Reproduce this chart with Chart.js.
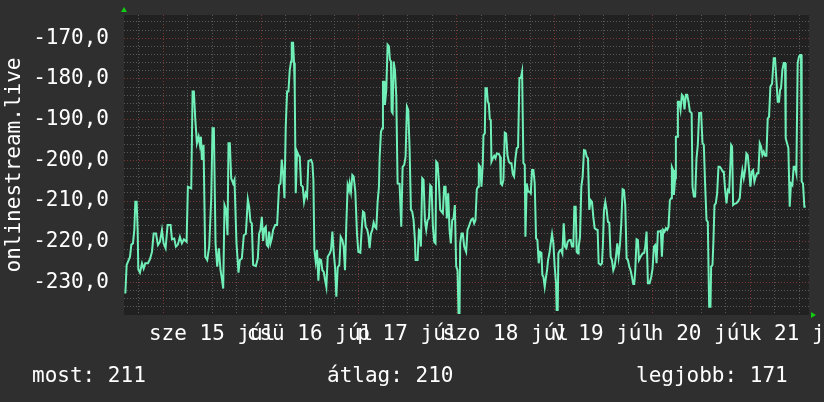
<!DOCTYPE html>
<html>
<head>
<meta charset="utf-8">
<script src="https://cdn.jsdelivr.net/npm/chart.js@4.4.1/dist/chart.umd.min.js"></script>
<style>
  html, body { margin: 0; padding: 0; background: #2f2f2f; }
  canvas { display: block; }
</style>
</head>
<body>
<canvas id="c" width="824" height="402"></canvas>
<script>
// ---- data (hours since the start of the window, 14 Jul ~14:23) ----
const START_HOUR = 14.38;      // time of day of the first hour value
const SPAN_HOURS = 168;        // one week
const hours = [
  0.33, 0.65, 1.14, 1.47, 1.80, 2.20, 2.53, 2.78, 3.10, 3.35,
  3.51, 3.92, 4.41, 4.82, 5.22, 5.88, 6.37, 6.86, 7.27, 7.84,
  8.33, 8.82, 9.31, 9.71, 10.20, 10.69, 11.43, 11.76, 12.33, 12.73,
  13.22, 13.71, 14.20, 14.69, 15.35, 15.67, 16.49, 16.82, 17.14, 17.47,
  17.88, 18.29, 18.61, 18.86, 19.10, 19.51, 19.92, 20.41, 20.90, 21.39,
  21.71, 22.04, 22.45, 22.86, 23.27, 23.67, 24.00, 24.33, 24.65, 25.06,
  25.39, 25.63, 25.96, 26.29, 26.78, 27.10, 27.59,
  28.08, 28.41, 28.90, 29.39, 29.88, 30.37, 30.69, 31.02, 31.35, 31.67,
  32.33, 32.82, 33.14, 33.47, 33.80, 34.12, 34.45, 34.78, 35.02, 35.35,
  35.59, 35.92, 36.24, 36.57, 37.06, 37.55, 38.04, 38.37, 38.69, 39.02,
  39.35, 39.67, 40.00, 40.33, 40.65, 40.98, 41.14, 41.47, 41.71, 41.88,
  42.12, 42.45, 42.78, 43.10, 43.43, 43.84, 44.16, 44.57, 44.90, 45.22,
  45.88, 46.20, 46.45, 46.69, 47.02, 47.35, 47.67, 48.00, 48.33, 48.65,
  48.98, 49.31, 49.63, 49.96, 50.45, 50.78, 51.10, 51.43, 51.76, 52.08,
  52.41, 52.82, 53.14, 53.55, 53.88, 54.20, 54.53, 54.86, 55.18, 55.35,
  55.67, 56.00, 56.33, 56.73, 57.14, 57.47, 57.96, 58.29, 58.61, 58.94,
  59.27, 59.67, 59.92, 60.24, 60.57, 60.90, 61.22, 61.55, 61.88, 62.20,
  62.53, 62.69, 63.02, 63.35, 63.51, 63.84, 64.00, 64.33, 64.65, 64.98,
  65.22, 65.47, 65.63, 65.88, 66.12, 66.45, 66.78, 67.10, 67.59, 68.00,
  68.33, 68.73, 69.06, 69.39, 69.71, 70.04, 70.37, 70.69, 71.02, 71.35,
  71.51, 72.00, 72.33, 72.65, 72.82, 73.14, 73.47, 73.80, 74.12, 74.45,
  74.78, 75.10, 75.43, 75.76, 76.08, 76.41, 76.57, 76.90, 77.22, 77.55,
  77.88, 78.20, 78.53, 78.86, 79.18, 79.51, 79.84, 80.16, 80.49, 80.82,
  81.14, 81.47, 81.80, 82.04, 82.29, 82.45, 82.78, 83.10, 83.43,
  83.92, 84.24, 84.57, 84.90, 85.22, 85.55, 85.88, 86.20, 86.53, 86.86,
  87.02, 87.35, 87.67, 88.00, 88.16, 88.49, 88.65, 88.98, 89.22, 89.47,
  89.71, 89.96, 90.12, 90.45, 90.78, 91.10, 91.43, 91.92, 92.24, 92.41,
  92.73, 93.06, 93.39, 93.71, 94.04, 94.37, 94.69, 95.02, 95.35, 95.67,
  96.00, 96.33, 96.65, 96.98, 97.31, 97.63, 97.96, 98.29, 98.45, 98.78,
  99.10, 99.43, 99.76, 100.08, 100.41, 100.73, 101.06, 101.39, 101.71, 102.04,
  102.37, 102.61, 102.86, 103.18, 103.51, 103.76, 104.00, 104.33, 104.65, 104.98,
  105.31, 105.63, 105.96, 106.12, 106.37, 106.53, 106.86, 107.18, 107.51, 107.84,
  108.16, 108.49, 108.82, 109.22, 109.55, 109.88, 110.20, 110.45, 110.78, 111.02,
  111.35,
  111.51, 111.84, 112.16, 112.49, 112.82, 113.14, 113.47, 113.80, 114.12, 114.45,
  114.78, 115.10, 115.43, 115.84, 116.16, 116.41, 116.90, 117.22, 117.47, 117.71,
  118.04, 118.37, 118.69, 119.02, 119.35, 119.67, 120.00, 120.33, 120.65, 120.98,
  121.31, 121.63, 121.96, 122.29, 122.61, 122.94, 123.27, 123.59, 123.92, 124.24,
  124.57, 124.90, 125.14, 125.39, 125.71, 126.04, 126.29, 126.69, 127.18, 127.59,
  127.84, 128.16, 128.49, 128.90, 129.31, 129.63, 129.96, 130.29, 130.61, 130.94,
  131.35, 131.67, 131.92, 132.24, 132.57, 132.90, 133.22, 133.55, 133.88, 134.20,
  134.37, 134.69, 134.86, 135.18, 135.35, 135.67, 135.84, 136.16, 136.49, 136.82,
  137.14, 137.47, 137.80, 138.12, 138.45, 138.78, 139.22,
  139.43, 139.76, 140.08, 140.41, 140.73, 141.06, 141.55, 141.88, 142.20, 142.53,
  142.86, 143.18, 143.51, 143.84, 144.00, 144.33, 144.57, 144.82, 145.14, 145.47,
  145.80, 146.12, 146.45, 146.86, 147.10, 147.43, 147.76, 148.08, 148.41, 148.73,
  148.90, 149.14, 149.39, 149.71, 150.12, 150.53, 151.02, 151.35, 151.67, 152.00,
  152.33, 152.65, 152.98, 153.31, 153.63, 153.96, 154.29, 154.61, 154.94, 155.27,
  155.59, 155.92, 156.24, 156.57, 156.90, 157.22, 157.55, 157.88, 158.20, 158.53,
  158.94, 159.35, 159.67, 160.00, 160.33, 160.65, 160.90, 161.14, 161.47, 161.80,
  162.12, 162.29, 162.61, 162.94, 163.27, 163.59, 163.92, 164.24, 164.57, 164.90,
  165.22, 165.55, 165.80, 166.04, 166.20, 166.53, 166.86, 167.18
];
const signal = [
  -232.7, -225.7, -224.5, -223.7, -220.7, -220.4, -217.1, -210.2, -210.2, -217.1,
  -226.8, -227.6, -225.3, -226.6, -225.3, -225.3, -224.3, -222.5, -218.0, -218.0,
  -220.8, -220.0, -217.1, -220.4, -221.6, -215.9, -215.9, -219.4, -219.2, -221.2,
  -220.7, -218.8, -220.4, -219.4, -220.0, -206.5, -206.9, -183.1, -183.1, -189.7,
  -195.8, -194.2, -196.2, -194.2, -199.9, -196.2, -223.7, -224.5, -221.2, -209.3,
  -192.1, -192.1, -220.4, -226.1, -221.6, -227.0, -229.0, -231.5, -211.0, -212.2,
  -218.4, -195.8, -195.8, -204.4, -205.7, -204.8, -220.4,
  -227.6, -224.5, -224.1, -218.4, -218.1, -209.6, -211.4, -215.1, -215.5, -225.7,
  -226.0, -224.1, -218.0, -217.1, -213.9, -219.8, -216.7, -216.3, -220.8, -221.2,
  -217.5, -220.4, -219.2, -217.1, -215.9, -215.9, -206.1, -205.7, -199.8, -203.2,
  -209.3, -191.7, -183.1, -183.1, -177.8, -175.7, -171.1, -171.1, -176.1, -183.1,
  -208.1, -197.9, -198.7, -199.1, -206.1, -206.5, -210.2, -208.1, -208.9, -200.2,
  -199.9, -200.7, -204.8, -222.0, -224.9, -222.0, -229.6, -224.3, -224.5, -227.0,
  -227.4, -229.4, -231.1, -223.7, -222.9, -222.0, -217.5, -222.5, -226.3, -233.5,
  -226.3, -225.7, -218.8, -219.6, -221.2, -227.0, -215.5, -206.1, -207.3, -205.7,
  -207.7, -203.6, -204.0, -207.7, -218.0, -222.5, -222.7, -217.1, -212.6, -212.9,
  -216.3, -217.1, -218.4, -221.6, -218.0, -217.1, -215.3, -216.3, -216.7, -210.2,
  -206.5, -199.5, -193.0, -192.1, -180.7, -180.7, -186.4, -182.7, -171.6, -172.0,
  -175.3, -175.7, -188.0, -188.4, -175.7, -177.8, -184.3, -205.7, -205.8, -216.3,
  -201.6, -201.1, -199.1, -186.8, -187.6, -197.0, -212.2, -212.6, -214.7, -219.6,
  -224.5, -224.5, -217.1, -217.5, -221.2, -204.4, -204.8, -214.7, -217.1, -214.7,
  -214.3, -206.1, -206.5, -216.3, -220.0, -220.4, -200.3, -200.7, -205.2, -212.2,
  -212.6, -213.0, -206.5, -206.5, -214.3, -208.1, -217.1, -220.4, -214.7, -214.3,
  -211.0, -226.1, -227.0, -237.5, -237.5, -220.4, -218.0, -218.0, -221.2,
  -222.5, -217.1, -216.3, -215.3, -214.5, -214.3, -215.5, -214.7, -207.1, -206.5,
  -201.1, -201.6, -206.5, -200.7, -193.8, -193.4, -182.3, -182.3, -185.6, -186.0,
  -189.9, -190.1, -200.3, -199.5, -198.9, -199.5, -198.3, -198.4, -199.1, -205.7,
  -206.1, -204.8, -193.2, -193.4, -198.7, -200.3, -200.7, -200.7, -203.4, -204.0,
  -199.5, -197.0, -196.8, -179.8, -179.8, -178.2, -200.7, -201.1, -218.8, -205.7,
  -207.7, -207.7, -208.1, -202.4, -202.4, -205.7, -219.2, -219.6, -225.3, -222.5,
  -222.7, -228.2, -228.6, -231.1, -228.6, -227.0, -224.5, -222.9, -220.4, -218.1,
  -220.4, -226.1, -230.2, -236.8, -236.8, -222.9, -222.2, -222.0, -222.9, -215.5,
  -221.2, -221.6, -220.0, -219.6, -219.6, -221.2, -221.2, -211.4, -211.4, -222.5,
  -222.9,
  -221.2, -218.8, -206.5, -204.0, -197.5, -197.6, -199.1, -199.5, -212.2, -209.8,
  -210.2, -213.9, -216.7, -217.0, -217.1, -225.3, -225.7, -225.3, -220.4, -212.2,
  -210.2, -212.2, -215.1, -215.3, -223.7, -224.5, -227.0, -226.1, -223.7, -220.4,
  -223.7, -220.8, -215.5, -207.1, -207.3, -211.0, -224.1, -224.5, -226.1, -227.0,
  -228.6, -230.4, -230.4, -227.0, -219.4, -219.6, -224.5, -223.7, -222.9, -222.7,
  -221.2, -217.5, -230.2, -230.2, -228.6, -226.6, -221.2, -220.8, -225.3, -217.5,
  -217.5, -217.3, -223.7, -217.1, -217.5, -216.7, -217.1, -216.3, -209.8, -209.3,
  -201.6, -202.4, -208.5, -204.4, -194.2, -194.2, -185.6, -185.6, -187.6, -183.9,
  -184.3, -187.5, -183.9, -183.9, -185.6, -188.0, -188.4,
  -206.5, -208.9, -208.9, -199.5, -196.2, -188.4, -188.4, -195.8, -196.2, -206.1,
  -214.7, -215.1, -236.0, -236.0, -226.1, -225.7, -219.6, -211.0, -210.6, -208.1,
  -201.6, -201.6, -202.0, -202.8, -202.8, -207.3, -210.6, -207.3, -207.7, -200.7,
  -196.2, -196.6, -211.0, -210.7, -210.6, -210.2, -209.3, -204.8, -202.4, -204.4,
  -202.4, -198.3, -198.7, -202.4, -206.5, -202.8, -202.4, -205.2, -204.0, -203.2,
  -203.2, -195.8, -196.6, -198.7, -197.9, -198.9, -198.9, -189.7, -189.3, -181.9,
  -181.2, -174.9, -174.9, -180.2, -185.6, -185.6, -182.7, -182.3, -177.8, -176.1,
  -176.1, -194.6, -195.8, -197.0, -211.4, -205.7, -206.1, -201.6, -201.6, -203.2,
  -176.1, -174.5, -174.1, -174.1, -205.2, -205.7, -211.4, -211.4
];
const dayLabels = ['sze 15 júl', 'csü 16 júl', 'p 17 júl', 'szo 18 júl', 'v 19 júl', 'h 20 júl', 'k 21 júl'];
const Y_MIN = -238.0, Y_MAX = -164.3;
const axisTitle = 'onlinestream.live';
const legendItems = [
  { text: 'most: 211' },
  { text: 'átlag: 210' },
  { text: 'legjobb: 171' }
];

// ---- styles ----
const BG = '#2f2f2f';
const PLOT_BG = '#212121';
const LINE = '#70f0b8';
const GRID_MINOR = '#575757';
const GRID_MAJOR = '#7a3535';
const TEXT = '#ffffff';
const ARROW = '#11cc11';
const FONT = '"DejaVu Sans Mono", "Liberation Mono", monospace';

const gridHours = [];
for (let t = 6 - (START_HOUR % 6); t < SPAN_HOURS; t += 6) gridHours.push(+t.toFixed(2));
const isMidnight = t => Math.round(START_HOUR + t) % 24 === 0;
const noonHours = dayLabels.map((_, i) => (24 - START_HOUR) + 12 + 24 * i);
const yTicks = [];
for (let v = -236; v <= -166; v += 2) yTicks.push(v);

const decor = {
  id: 'decor',
  beforeDraw(chart) {
    const { ctx, chartArea: a } = chart;
    ctx.save();
    ctx.fillStyle = BG;
    ctx.fillRect(0, 0, chart.width, chart.height);
    ctx.fillStyle = PLOT_BG;
    ctx.fillRect(a.left, a.top, a.right - a.left, a.bottom - a.top);
    ctx.restore();
  },
  afterDraw(chart) {
    const { ctx, chartArea: a } = chart;
    const xs = chart.scales.x;
    ctx.save();
    ctx.fillStyle = TEXT;
    ctx.font = '21px ' + FONT;
    ctx.textAlign = 'center';
    ctx.textBaseline = 'alphabetic';
    dayLabels.forEach((lab, i) => {
      ctx.fillText(lab, xs.getPixelForValue(noonHours[i]), a.bottom + 25);
    });
    // axis title
    ctx.save();
    ctx.translate(20, (a.top + a.bottom) / 2);
    ctx.rotate(-Math.PI / 2);
    ctx.fillText(axisTitle, 0, 0);
    ctx.restore();
    // legend line
    ctx.textAlign = 'left';
    const lx = [32, 327, 636];
    legendItems.forEach((it, i) => ctx.fillText(it.text, lx[i], a.bottom + 67));
    // arrows
    ctx.fillStyle = ARROW;
    ctx.beginPath();
    ctx.moveTo(a.left - 3, a.top - 3);
    ctx.lineTo(a.left + 3, a.top - 3);
    ctx.lineTo(a.left, a.top - 8);
    ctx.closePath();
    ctx.fill();
    ctx.beginPath();
    ctx.moveTo(a.right + 2, a.bottom - 3);
    ctx.lineTo(a.right + 2, a.bottom + 3);
    ctx.lineTo(a.right + 7, a.bottom);
    ctx.closePath();
    ctx.fill();
    ctx.restore();
  }
};

new Chart(document.getElementById('c'), {
  type: 'line',
  data: {
    datasets: [{
      data: hours.map((h, i) => ({ x: h, y: signal[i] })),
      borderColor: LINE,
      borderWidth: 2,
      pointRadius: 0,
      tension: 0,
      fill: false
    }]
  },
  options: {
    responsive: false,
    animation: false,
    devicePixelRatio: 1,
    layout: { padding: { top: 15, right: 15, bottom: 87, left: 0 } },
    plugins: { legend: { display: false }, tooltip: { enabled: false } },
    scales: {
      x: {
        type: 'linear', min: 0, max: SPAN_HOURS,
        afterBuildTicks: s => { s.ticks = gridHours.map(v => ({ value: v })); },
        afterFit: s => { s.height = 0; s.paddingLeft = 0; s.paddingRight = 0; },
        ticks: { display: false, autoSkip: false },
        grid: { drawTicks: false, lineWidth: 1, color: c => (c.tick && isMidnight(c.tick.value)) ? GRID_MAJOR : GRID_MINOR },
        border: { display: false, dash: [1, 2] }
      },
      y: {
        type: 'linear', min: Y_MIN, max: Y_MAX,
        afterBuildTicks: s => { s.ticks = yTicks.map(v => ({ value: v })); },
        afterFit: s => { s.width = 124; s.paddingTop = 0; s.paddingBottom = 0; },
        ticks: {
          autoSkip: false, color: TEXT, padding: 15,
          font: { family: FONT, size: 21 },
          callback: v => (v % 10 === 0) ? v.toFixed(1).replace('.', ',') : ''
        },
        grid: { drawTicks: false, lineWidth: 1, color: c => (c.tick && c.tick.value % 10 === 0) ? GRID_MAJOR : GRID_MINOR },
        border: { display: false, dash: [1, 2] }
      }
    }
  },
  plugins: [decor]
});
</script>
</body>
</html>
